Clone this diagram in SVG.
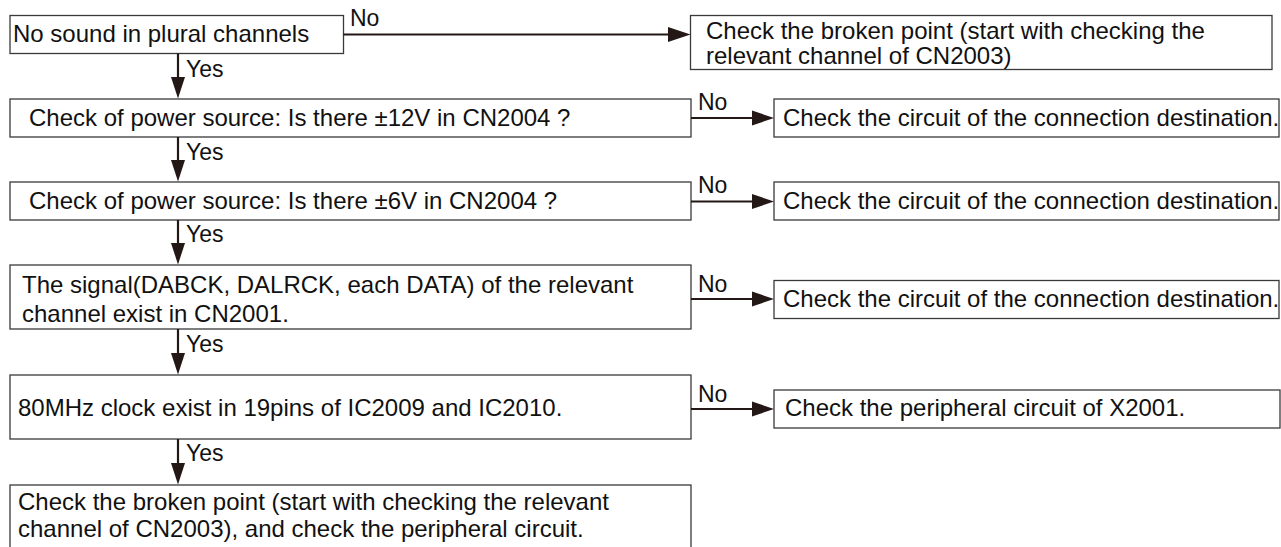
<svg xmlns="http://www.w3.org/2000/svg" width="1281" height="547" viewBox="0 0 1281 547">
<style>
.box{fill:#fff;stroke:#3a3a3a;stroke-width:1.3}
.t{font-family:"Liberation Sans",Arial,Helvetica,sans-serif;font-size:24px;fill:#111}
.lb{font-family:"Liberation Sans",Arial,Helvetica,sans-serif;font-size:23px;fill:#111}
.ln{stroke:#231815;stroke-width:2.2;fill:none}
.ah{fill:#231815}
</style>
<rect width="1281" height="547" fill="#fff"/>
<g id="n1"><rect class="box" x="10" y="15.5" width="333.5" height="38"/><text class="t" x="13" y="42">No sound in plural channels</text></g>
<g id="r1"><rect class="box" x="690.5" y="15.5" width="581.5" height="54"/><text class="t" x="706" y="39">Check the broken point (start with checking the</text><text class="t" x="706" y="63.5">relevant channel of CN2003)</text></g>
<g id="n2"><rect class="box" x="10" y="99" width="681" height="38"/><text class="t" x="29" y="125.5">Check of power source: Is there ±12V in CN2004 ?</text></g>
<g id="r2"><rect class="box" x="774" y="99" width="505" height="38"/><text class="t" x="783" y="126">Check the circuit of the connection destination.</text></g>
<g id="n3"><rect class="box" x="10" y="182" width="681" height="38"/><text class="t" x="29" y="209">Check of power source: Is there ±6V in CN2004 ?</text></g>
<g id="r3"><rect class="box" x="774" y="182" width="505" height="38"/><text class="t" x="783" y="208.5">Check the circuit of the connection destination.</text></g>
<g id="n4"><rect class="box" x="10" y="265" width="681" height="64"/><text class="t" x="22" y="293">The signal(DABCK, DALRCK, each DATA) of the relevant</text><text class="t" x="22" y="321.5">channel exist in CN2001.</text></g>
<g id="r4"><rect class="box" x="774" y="280.5" width="505" height="38"/><text class="t" x="783" y="306.5">Check the circuit of the connection destination.</text></g>
<g id="n5"><rect class="box" x="10" y="375" width="681" height="64"/><text class="t" x="18" y="416">80MHz clock exist in 19pins of IC2009 and IC2010.</text></g>
<g id="r5"><rect class="box" x="774" y="390" width="506" height="38"/><text class="t" x="785" y="416">Check the peripheral circuit of X2001.</text></g>
<g id="n6"><rect class="box" x="10" y="485" width="681" height="75"/><text class="t" x="18" y="510">Check the broken point (start with checking the relevant</text><text class="t" x="18" y="537">channel of CN2003), and check the peripheral circuit.</text></g>
<g id="connectors">
<line class="ln" x1="343.5" y1="34.5" x2="670" y2="34.5"/><polygon class="ah" points="668,27 690.5,34.5 668,42"/><text class="lb" x="350" y="26">No</text>
<line class="ln" x1="691" y1="118" x2="754" y2="118"/><polygon class="ah" points="752,110.5 774,118 752,125.5"/><text class="lb" x="698" y="110">No</text>
<line class="ln" x1="691" y1="201.5" x2="754" y2="201.5"/><polygon class="ah" points="752,194 774,201.5 752,209"/><text class="lb" x="698" y="193">No</text>
<line class="ln" x1="691" y1="299" x2="754" y2="299"/><polygon class="ah" points="752,291.5 774,299 752,306.5"/><text class="lb" x="698" y="291.5">No</text>
<line class="ln" x1="691" y1="409" x2="754" y2="409"/><polygon class="ah" points="752,401.5 774,409 752,416.5"/><text class="lb" x="698" y="401.5">No</text>
<line class="ln" x1="178" y1="53.5" x2="178" y2="79"/><polygon class="ah" points="171,77 185,77 178,98.5"/><text class="lb" x="186" y="77">Yes</text>
<line class="ln" x1="178" y1="137" x2="178" y2="162"/><polygon class="ah" points="171,160 185,160 178,181.5"/><text class="lb" x="186" y="160">Yes</text>
<line class="ln" x1="178" y1="220" x2="178" y2="245"/><polygon class="ah" points="171,243 185,243 178,264.5"/><text class="lb" x="186" y="242">Yes</text>
<line class="ln" x1="178" y1="329" x2="178" y2="355"/><polygon class="ah" points="171,353 185,353 178,374.5"/><text class="lb" x="186" y="352">Yes</text>
<line class="ln" x1="178" y1="439" x2="178" y2="465"/><polygon class="ah" points="171,463 185,463 178,484.5"/><text class="lb" x="186" y="461">Yes</text>
</g>
</svg>
